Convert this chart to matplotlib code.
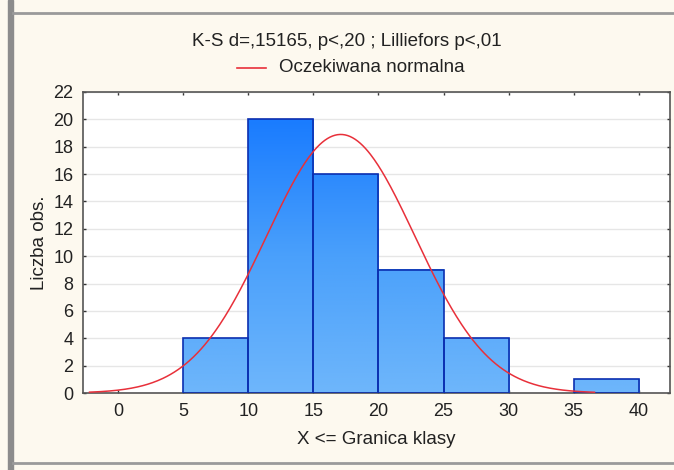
import numpy as np
import matplotlib
matplotlib.use("Agg")
import matplotlib.pyplot as plt
from matplotlib.lines import Line2D
from matplotlib.patches import Rectangle

# histogram data
bin_edges = [5, 10, 15, 20, 25, 30, 35, 40]
counts = [4, 20, 16, 9, 4, 0, 1]
x_ticks = [0, 5, 10, 15, 20, 25, 30, 35, 40]
y_ticks = [0, 2, 4, 6, 8, 10, 12, 14, 16, 18, 20, 22]

# expected normal curve parameters
n_obs = 54
fit_mean = 17.1
fit_sd = 5.7
curve_range = (-2.2, 36.6)

title_text = "K-S d=,15165, p<,20 ; Lilliefors p<,01"
legend_text = "Oczekiwana normalna"

plt.rcParams["font.family"] = ["Liberation Sans", "DejaVu Sans"]

BG = "#fdf9ef"
TXT = "#222222"
fig = plt.figure(figsize=(6.74, 4.70), dpi=100)
fig.patch.set_facecolor(BG)

# window-like frame bits
fig.add_artist(Rectangle((8 / 674, 0), 5 / 674, 1, transform=fig.transFigure,
                         color="#8c8c8c", zorder=0))
fig.add_artist(Line2D([13 / 674, 1], [1 - 13 / 470] * 2, transform=fig.transFigure,
                      color="#9a9a9a", lw=2))
fig.add_artist(Line2D([13 / 674, 1], [1 - 463 / 470] * 2, transform=fig.transFigure,
                      color="#9a9a9a", lw=2))

ax = fig.add_axes([83 / 674, 1 - 393 / 470, 587 / 674, 301 / 470])
ax.set_facecolor("white")

# bars: vertical gradient tied to the y value (light at 0, dark near 20)
cmap = matplotlib.colors.LinearSegmentedColormap.from_list(
    "barfill", ["#6eb6fb", "#4aa0fb", "#1a7cff"])
widths = np.diff(bin_edges)
for left, w, c in zip(bin_edges[:-1], widths, counts):
    if c <= 0:
        continue
    yv = np.linspace(c, 0, 80).reshape(-1, 1)
    ax.imshow(yv, extent=(left, left + w, 0, c), cmap=cmap, vmin=0, vmax=20,
              aspect="auto", zorder=2, interpolation="bilinear")
    ax.add_patch(Rectangle((left, 0), w, c, fill=False, edgecolor="#0b2fb0",
                           lw=1.2, zorder=3))
ax.set_xlim(-2.7, 42.4)
ax.set_ylim(0, 22)

xs = np.linspace(curve_range[0], curve_range[1], 400)
bw = bin_edges[1] - bin_edges[0]
ys = n_obs * bw / (fit_sd * np.sqrt(2 * np.pi)) * np.exp(-0.5 * ((xs - fit_mean) / fit_sd) ** 2)
ax.plot(xs, ys, color="#e8303a", lw=1.1, zorder=4)

ax.set_yticks(y_ticks)
ax.set_xticks(x_ticks)
ax.grid(axis="y", color="#e6e6e6", lw=1.0, zorder=0)
ax.set_axisbelow(True)
ax.tick_params(direction="in", length=2, width=1, colors="#333333",
               labelcolor=TXT, labelsize=13, top=True, right=True, pad=7)
for s in ax.spines.values():
    s.set_color("#555555")
    s.set_linewidth(1.2)

ax.set_ylabel("Liczba obs.", fontsize=13.5, color=TXT, labelpad=4)
ax.set_xlabel("X <= Granica klasy", fontsize=13.5, color=TXT, labelpad=8)

fig.text(347 / 674, 1 - 42 / 470, title_text, ha="center", va="center",
         fontsize=13.5, color=TXT)
fig.add_artist(Line2D([237 / 674, 266 / 674], [1 - 68 / 470] * 2,
                      transform=fig.transFigure, color="#e8303a", lw=1.2))
fig.text(279 / 674, 1 - 68 / 470, legend_text, ha="left", va="center",
         fontsize=13.5, color=TXT)

fig.savefig("out.png", dpi=100, facecolor=fig.get_facecolor())
